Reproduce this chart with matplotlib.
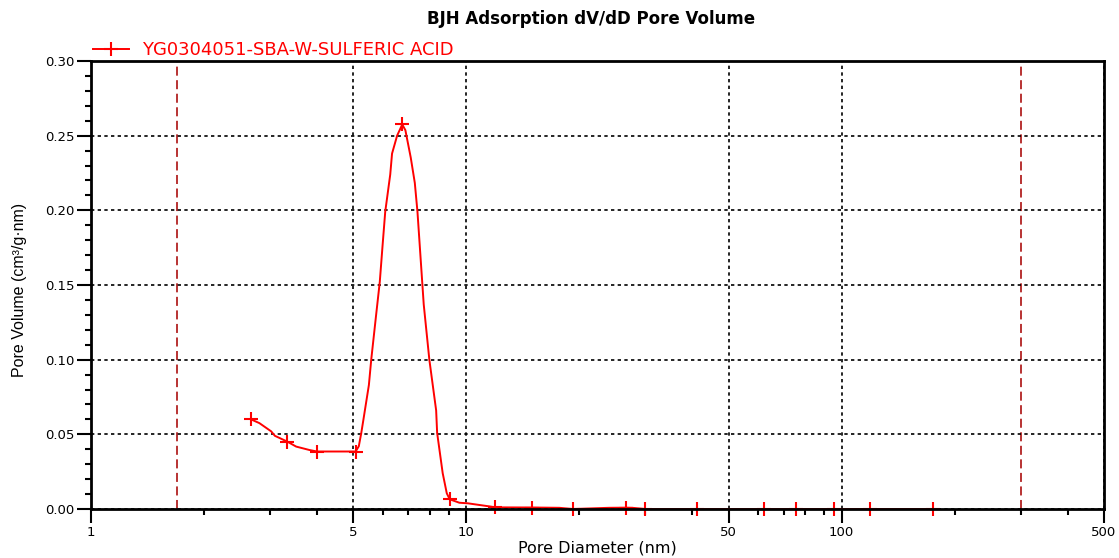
import matplotlib
matplotlib.use("Agg")
import matplotlib.pyplot as plt
from matplotlib.ticker import FixedLocator, NullFormatter
import numpy as np

# BJH adsorption pore size distribution
diameter = [2.67, 2.81, 3.02, 3.09, 3.33, 3.52, 3.82, 4.00, 5.07, 5.17,
            5.25, 5.32, 5.50, 5.58, 5.75, 5.88, 5.98, 6.08, 6.27, 6.34,
            6.54, 6.75, 6.88, 7.11, 7.29, 7.41, 7.70, 7.97, 8.31, 8.36,
            8.65, 8.87, 9.03, 9.58, 10.1, 10.83, 11.63, 11.92, 15.0, 17.7,
            19.2, 24.0, 26.6, 27.7, 30.0, 41.2, 62.0, 75.5, 95.2, 119.0,
            175.0]
pore_volume = [0.060, 0.0575, 0.052, 0.049, 0.0452, 0.0418, 0.0395, 0.0385, 0.0385, 0.042,
               0.051, 0.060, 0.083, 0.100, 0.130, 0.152, 0.176, 0.199, 0.224, 0.238,
               0.250, 0.2575, 0.2537, 0.2354, 0.2184, 0.199, 0.137, 0.100, 0.066, 0.051,
               0.024, 0.0105, 0.0065, 0.0042, 0.0038, 0.0027, 0.0016, 0.0011, 0.0010, 0.0008,
               0.0, 0.0008, 0.0009, 0.0008, 0.0, 0.0, 0.0, 0.0, 0.0, 0.0,
               0.0]
# points that carry a marker
marked = [2.67, 3.33, 4.00, 5.07, 6.75, 9.03, 11.92, 15.0, 19.2, 26.6,
          30.0, 41.2, 62.0, 75.5, 95.2, 119.0, 175.0]
sample = "YG0304051-SBA-W-SULFERIC ACID"

# micropore / macropore limits of the BJH range
limits = [1.7, 300]

major_x = [1, 5, 10, 50, 100, 500]
minor_x = [2, 3, 4, 6, 7, 8, 9, 20, 30, 40, 60, 70, 80, 90, 200, 300, 400]
major_y = [0.00, 0.05, 0.10, 0.15, 0.20, 0.25, 0.30]

red = "#ff0000"
limit_color = "#b22222"

fig = plt.figure(figsize=(11.19, 5.58), dpi=100)
ax = fig.add_axes([91/1119, 1 - 509/558, (1104 - 91)/1119, (509 - 61)/558])

mark_idx = [diameter.index(x) for x in marked]
ax.plot(diameter, pore_volume, color=red, lw=1.4, marker="+", ms=10, mew=1.5,
        markevery=mark_idx, clip_on=False, zorder=2, label=sample)

for x in limits:
    ax.axvline(x, color=limit_color, lw=1.3, ls=(0, (5, 2.5)), zorder=1)

ax.set_xscale("log")
ax.set_xlim(1, 500)
ax.set_ylim(0, 0.30)

ax.xaxis.set_major_locator(FixedLocator(major_x))
ax.xaxis.set_minor_locator(FixedLocator(minor_x))
ax.xaxis.set_minor_formatter(NullFormatter())
ax.set_xticklabels([str(v) for v in major_x])
ax.yaxis.set_major_locator(FixedLocator(major_y))
ax.yaxis.set_minor_locator(FixedLocator(np.round(np.arange(0, 0.301, 0.01), 2)))
ax.set_yticklabels(["%.2f" % v for v in major_y])

ax.tick_params(which="major", direction="out", length=10, width=1.5,
               labelsize=9.5, pad=2, colors="black")
ax.tick_params(which="minor", direction="out", length=4.5, width=1.5)
for lab in ax.get_xticklabels() + ax.get_yticklabels():
    lab.set_family("DejaVu Sans")

for s in ax.spines.values():
    s.set_linewidth(2.0)
    s.set_zorder(2.5)

ax.grid(True, which="major", color="black", ls=(0, (2, 2)), lw=1.2, zorder=0)

ax.set_xlabel("Pore Diameter (nm)", fontsize=11.5, family="DejaVu Sans", labelpad=1)
ax.set_ylabel("Pore Volume (cm³/g·nm)", fontsize=11.5, family="Liberation Sans")
ax.yaxis.set_label_coords(-0.063, 0.49)

fig.text(591/1119, 1 - 19/558, "BJH Adsorption dV/dD Pore Volume", ha="center",
         va="center", fontsize=12, fontweight="bold", family="DejaVu Sans")

ax.legend(loc="lower left", bbox_to_anchor=(0.0, 1.0), borderaxespad=0.1,
          frameon=False, handlelength=2.0, handletextpad=0.7, labelcolor=red,
          prop={"family": "DejaVu Sans", "size": 13}, borderpad=0.0)

fig.savefig("out.png", dpi=100)
